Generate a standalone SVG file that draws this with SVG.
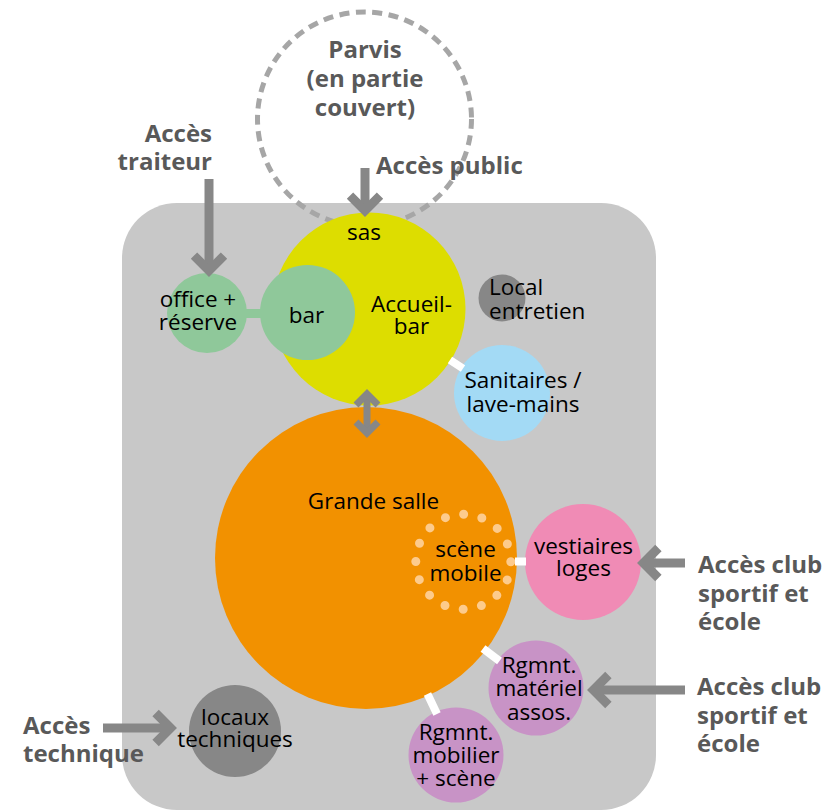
<svg xmlns="http://www.w3.org/2000/svg" width="834" height="811" viewBox="0 0 834 811">
  <style>
    .node { font-family: "Open Sans", "Liberation Sans", sans-serif; font-size: 22.5px; fill: #000000; text-anchor: middle; }
    .node.start { text-anchor: start; }
    .lbl { font-family: "Open Sans", "Liberation Sans", sans-serif; font-size: 24px; font-weight: bold; fill: #595959; }
    .arrow { fill: none; stroke: #878787; stroke-width: 9; }
    .arrowS { fill: none; stroke: #878787; stroke-width: 7; }
    .link { stroke: #ffffff; stroke-width: 8; }
  </style>
  <defs>
    <marker id="chev" markerUnits="userSpaceOnUse" markerWidth="40" markerHeight="40" viewBox="-20 -20 40 40" refX="0" refY="0" orient="auto" overflow="visible">
      <path d="M -15 -15 L 0 0 L -15 15" fill="none" stroke="#878787" stroke-width="9" stroke-linejoin="miter"/>
    </marker>
    <marker id="chevS" markerUnits="userSpaceOnUse" markerWidth="30" markerHeight="30" viewBox="-15 -15 30 30" refX="0" refY="0" orient="auto-start-reverse" overflow="visible">
      <path d="M -11 -11 L 0 0 L -11 11" fill="none" stroke="#878787" stroke-width="7" stroke-linejoin="miter"/>
    </marker>
  </defs>

  <rect id="building" x="122" y="203" width="534" height="607" rx="55" ry="55" fill="#c8c8c8"/>

  <g id="parvis">
    <circle cx="364.5" cy="119" r="107" fill="none" stroke="#a6a6a6" stroke-width="5" stroke-dasharray="10 6.5"/>
    <text class="lbl" text-anchor="middle"><tspan x="365" y="58">Parvis</tspan><tspan x="365" y="87">(en partie</tspan><tspan x="365" y="116">couvert)</tspan></text>
  </g>

  <g id="accueil">
    <circle cx="369" cy="309" r="96.5" fill="#dddd00"/>
    <text class="node" x="364" y="240">sas</text>
    <text class="node"><tspan x="411.5" y="312">Accueil-</tspan><tspan x="411.5" y="334">bar</tspan></text>
  </g>

  <g id="office">
    <circle cx="207" cy="313" r="40" fill="#8fc89a"/>
    <text class="node"><tspan x="198" y="307">office +</tspan><tspan x="198" y="330">réserve</tspan></text>
  </g>

  <g id="bar">
    <circle cx="307.5" cy="312.5" r="47.5" fill="#8fc89a"/>
    <text class="node" x="306.5" y="323">bar</text>
  </g>

  <g id="local-entretien">
    <circle cx="502" cy="298" r="23.5" fill="#878787"/>
    <text class="node start"><tspan x="489" y="295">Local</tspan><tspan x="489" y="319">entretien</tspan></text>
  </g>

  <g id="sanitaires">
    <circle cx="502" cy="393" r="48" fill="#a3daf5"/>
    <text class="node"><tspan x="523" y="388">Sanitaires /</tspan><tspan x="523" y="412">lave-mains</tspan></text>
  </g>

  <g id="grande-salle">
    <circle cx="366" cy="558" r="151" fill="#f29100"/>
    <text class="node" x="373.5" y="509">Grande salle</text>
  </g>

  <g id="scene-mobile">
    <circle cx="463.3" cy="561.7" r="47.5" fill="none" stroke="#fdcb8c" stroke-width="9" stroke-linecap="round" stroke-dasharray="0 18.653"/>
    <text class="node"><tspan x="465.5" y="557">scène</tspan><tspan x="465.5" y="581">mobile</tspan></text>
  </g>

  <g id="vestiaires">
    <circle cx="583" cy="562" r="58" fill="#f08bb5"/>
    <text class="node"><tspan x="583.5" y="554">vestiaires</tspan><tspan x="583.5" y="576">loges</tspan></text>
  </g>

  <g id="rgmnt-materiel">
    <circle cx="536" cy="688" r="47.5" fill="#c893c6"/>
    <text class="node"><tspan x="539" y="673">Rgmnt.</tspan><tspan x="539" y="696">matériel</tspan><tspan x="539" y="720">assos.</tspan></text>
  </g>

  <g id="rgmnt-mobilier">
    <circle cx="456" cy="755" r="47.5" fill="#c893c6"/>
    <text class="node"><tspan x="456" y="740">Rgmnt.</tspan><tspan x="456" y="763">mobilier</tspan><tspan x="456" y="786">+ scène</tspan></text>
  </g>

  <g id="locaux-techniques">
    <circle cx="235" cy="731" r="46" fill="#878787"/>
    <text class="node"><tspan x="235" y="725">locaux</tspan><tspan x="235" y="747">techniques</tspan></text>
  </g>

  <g id="labels">
    <text class="lbl" x="376" y="174">Accès public</text>
    <text class="lbl" text-anchor="end"><tspan x="212" y="142">Accès</tspan><tspan x="212" y="170">traiteur</tspan></text>
    <text class="lbl"><tspan x="23" y="734">Accès</tspan><tspan x="23" y="762">technique</tspan></text>
    <text class="lbl"><tspan x="698" y="573">Accès club</tspan><tspan x="698" y="602">sportif et</tspan><tspan x="698" y="630">école</tspan></text>
    <text class="lbl"><tspan x="697" y="695">Accès club</tspan><tspan x="697" y="724">sportif et</tspan><tspan x="697" y="752">école</tspan></text>
  </g>

  <g id="connectors">
    <rect x="245" y="309" width="18" height="9" fill="#8fc89a"/>
    <line class="link" x1="450" y1="360" x2="463" y2="368.5"/>
    <line class="link" x1="515" y1="561.5" x2="526" y2="561.5"/>
    <line class="link" x1="483" y1="648.5" x2="499.5" y2="661"/>
    <line class="link" x1="427.5" y1="694" x2="437" y2="714"/>

    <line class="arrow" x1="209" y1="179" x2="209" y2="270.6" marker-end="url(#chev)"/>
    <line class="arrow" x1="365" y1="168" x2="365" y2="210.6" marker-end="url(#chev)"/>
    <line class="arrow" x1="103" y1="728" x2="170.6" y2="728" marker-end="url(#chev)"/>
    <line class="arrow" x1="685" y1="563" x2="643.4" y2="563" marker-end="url(#chev)"/>
    <line class="arrow" x1="685" y1="690" x2="593.4" y2="690" marker-end="url(#chev)"/>
    <line class="arrowS" x1="367" y1="394" x2="367" y2="433" marker-start="url(#chevS)" marker-end="url(#chevS)"/>
  </g>
</svg>
